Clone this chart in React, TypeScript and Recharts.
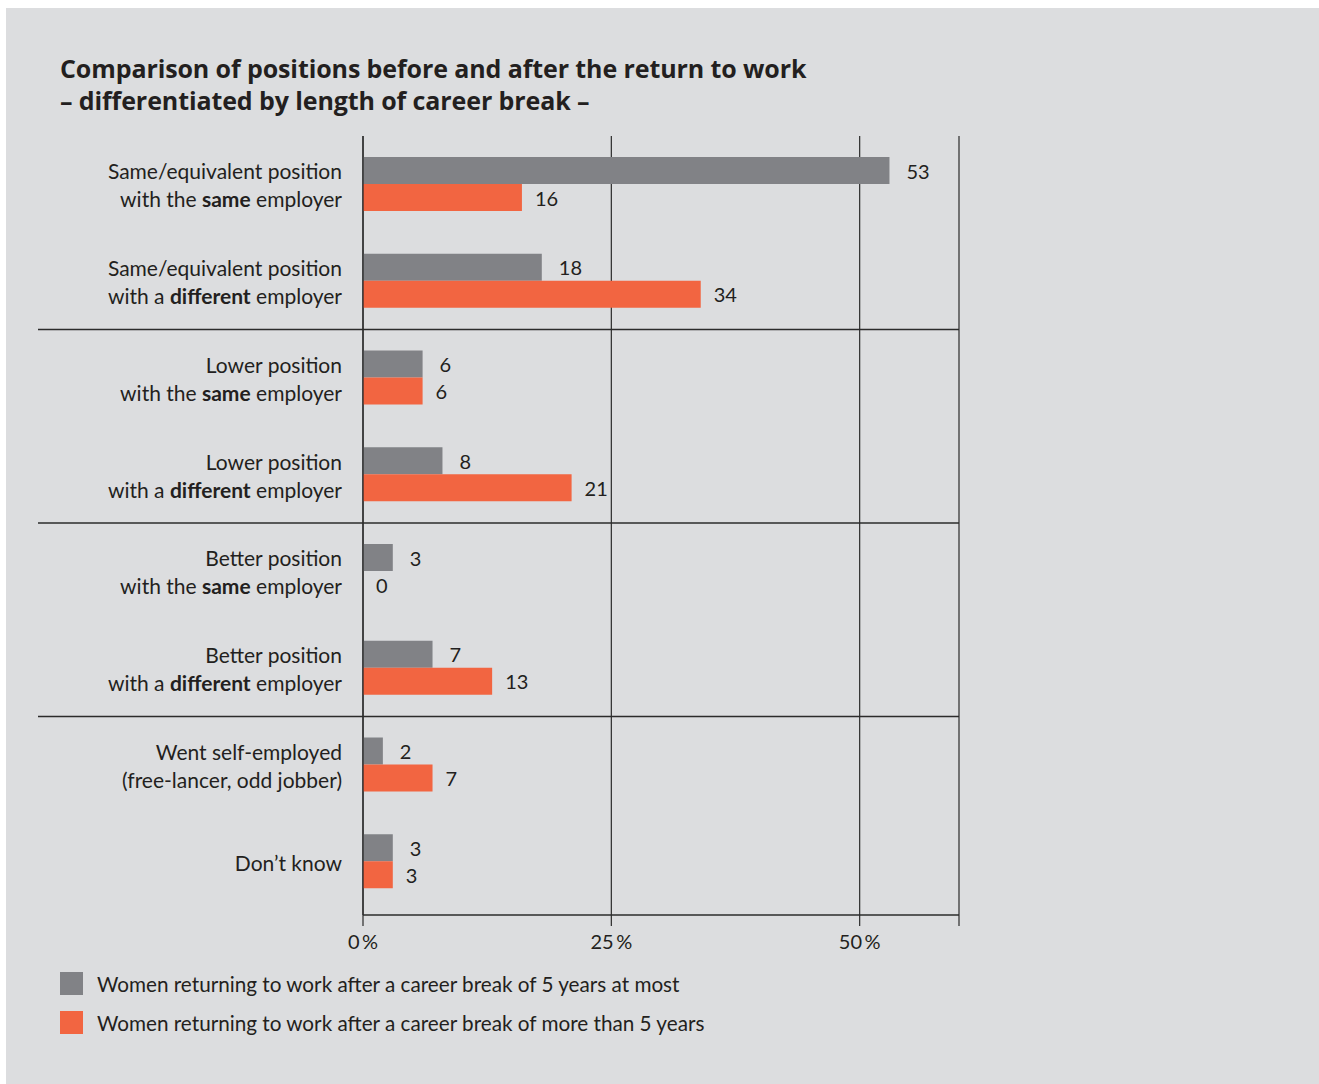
import React from 'react';
import {
  BarChart,
  Bar,
  XAxis,
  YAxis,
  CartesianGrid,
  LabelList,
} from 'recharts';

// categories, two lines each; *word* = bold
const categories = [
  'Same/equivalent position\nwith the *same* employer',
  'Same/equivalent position\nwith a *different* employer',
  'Lower position\nwith the *same* employer',
  'Lower position\nwith a *different* employer',
  'Better position\nwith the *same* employer',
  'Better position\nwith a *different* employer',
  'Went self-employed\n(free-lancer, odd jobber)',
  'Don’t know',
];

const shortBreak = [53, 18, 6, 8, 3, 7, 2, 3];
const longBreak = [16, 34, 6, 21, 0, 13, 7, 3];

const xTicks = [0, 25, 50, 60];

// a separator is drawn below these categories
const groupEnds = [1, 3, 5];

const seriesNames = [
  'Women returning to work after a career break of 5 years at most',
  'Women returning to work after a career break of more than 5 years',
];

const GRAY = '#818286';
const ORANGE = '#f26541';
const BG = '#dcdddf';
const INK = '#231f20';
const LINE = '#2b2b2b';
const FONT = 'Lato, "Open Sans", sans-serif';
const TITLE_FONT = '"Open Sans", Lato, sans-serif';

const W = 1313;
const H = 960;
const MARGIN = { top: 128, right: 360, bottom: 3, left: 27 };
const Y_AXIS_W = 330;
const X_AXIS_H = 50;
const PAD_BOTTOM = 5;
const PLOT_H = H - MARGIN.top - MARGIN.bottom - X_AXIS_H;
const BAND = (PLOT_H - PAD_BOTTOM) / categories.length;

const data = categories.map((name, i) => ({
  name,
  short: shortBreak[i],
  long: longBreak[i],
}));

function CategoryTick(props: any) {
  const { x, y, payload, index } = props;
  const lines: string[] = String(payload.value).split('\n');
  const lineH = 28;
  const startY = y - ((lines.length - 1) * lineH) / 2;
  return (
    <g>
      {lines.map((line, li) => (
        <text
          key={li}
          x={x}
          y={startY + li * lineH}
          textAnchor="end"
          dominantBaseline="central"
          fontSize={21}
          fontFamily={FONT}
          fill={INK}
        >
          {line.split('*').map((seg, si) => (
            <tspan key={si} fontWeight={si % 2 === 1 ? 700 : 400}>
              {seg}
            </tspan>
          ))}
        </text>
      ))}
      {groupEnds.includes(index) && (
        <line
          x1={32}
          x2={W - MARGIN.right}
          y1={y + BAND / 2}
          y2={y + BAND / 2}
          stroke={LINE}
          strokeWidth={1.3}
        />
      )}
    </g>
  );
}

const valueLabel = (offset: number) => (props: any) => {
  const { x, y, width, height, value } = props;
  return (
    <text
      x={Number(x) + Number(width) + offset}
      y={Number(y) + Number(height) / 2}
      dominantBaseline="central"
      fontSize={20}
      fontFamily={FONT}
      fill={INK}
    >
      {String(value)}
    </text>
  );
};

export default function App() {
  return (
    <div
      style={{
        position: 'absolute',
        left: 6,
        top: 8,
        width: W,
        height: 1076,
        background: BG,
        fontFamily: FONT,
        color: INK,
      }}
    >
      <div
        style={{
          position: 'absolute',
          left: 54,
          top: 44,
          fontFamily: TITLE_FONT,
          fontSize: 25,
          fontWeight: 700,
          lineHeight: '32px',
          letterSpacing: -0.1,
        }}
      >
        Comparison of positions before and after the return to work
        <br />– differentiated by length of career break –
      </div>

      <div style={{ position: 'absolute', left: 0, top: 0 }}>
        <BarChart
          width={W}
          height={H}
          data={data}
          layout="vertical"
          margin={MARGIN}
          barSize={27}
          barGap={0}
        >
          <CartesianGrid
            horizontal={false}
            vertical
            stroke={LINE}
            strokeWidth={1.2}
            strokeOpacity={1}
          />
          <XAxis
            type="number"
            domain={[0, 60]}
            ticks={xTicks}
            height={X_AXIS_H}
            tickSize={11}
            tickMargin={9}
            axisLine={{ stroke: LINE, strokeWidth: 1.5 }}
            tickLine={{ stroke: LINE, strokeWidth: 1.2 }}
            tick={{ fontSize: 20, fontFamily: FONT, fill: INK }}
            tickFormatter={(v: number) => (v === 60 ? '' : `${v}\u2009%`)}
          />
          <XAxis
            xAxisId="top"
            orientation="top"
            type="number"
            domain={[0, 60]}
            height={0}
            tick={false}
            tickLine={false}
            axisLine={{ stroke: LINE, strokeWidth: 1.5 }}
          />
          <YAxis
            type="category"
            dataKey="name"
            width={Y_AXIS_W}
            padding={{ top: 0, bottom: PAD_BOTTOM }}
            tickLine={false}
            tickSize={0}
            tickMargin={21}
            interval={0}
            axisLine={{ stroke: LINE, strokeWidth: 1.3 }}
            tick={<CategoryTick />}
          />
          <Bar dataKey="short" fill={GRAY} isAnimationActive={false}>
            <LabelList dataKey="short" content={valueLabel(17)} />
          </Bar>
          <Bar
            dataKey="long"
            fill={ORANGE}
            minPointSize={0.01}
            isAnimationActive={false}
          >
            <LabelList dataKey="long" content={valueLabel(13)} />
          </Bar>
        </BarChart>
      </div>

      <div style={{ position: 'absolute', left: 54, top: 964 }}>
        {seriesNames.map((name, i) => (
          <div
            key={name}
            style={{
              display: 'flex',
              alignItems: 'center',
              height: 23,
              marginBottom: 16,
              fontSize: 20.7,
            }}
          >
            <span
              style={{
                display: 'inline-block',
                width: 23,
                height: 23,
                background: i === 0 ? GRAY : ORANGE,
                marginRight: 14,
              }}
            />
            {name}
          </div>
        ))}
      </div>
    </div>
  );
}
